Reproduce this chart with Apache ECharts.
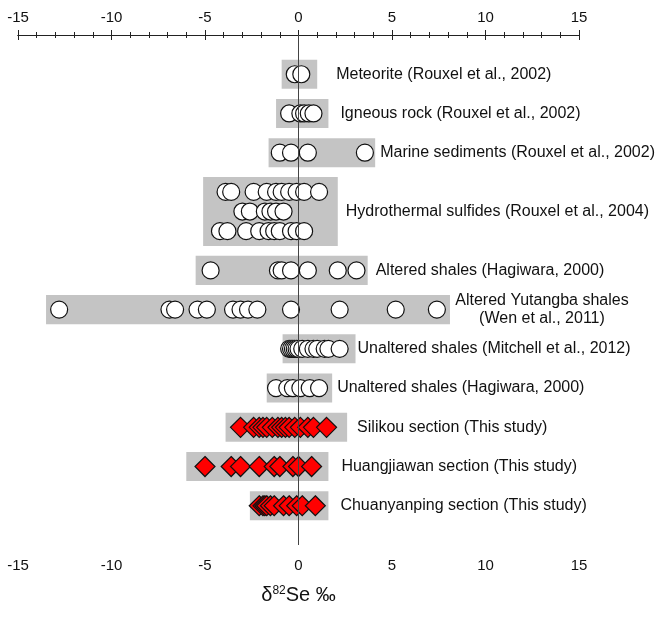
<!DOCTYPE html>
<html>
<head>
<meta charset="utf-8">
<script src="https://cdn.jsdelivr.net/npm/echarts@6/dist/echarts.min.js"></script>
<style>html,body{margin:0;padding:0;background:#fff}#c{width:662px;height:617px}</style>
</head>
<body>
<div id="c"></div>
<script>
// ---- data ----
const groupNames = [
  'Meteorite (Rouxel et al., 2002)',
  'Igneous rock (Rouxel et al., 2002)',
  'Marine sediments (Rouxel et al., 2002)',
  'Hydrothermal sulfides (Rouxel et al., 2004)',
  'Altered shales (Hagiwara, 2000)',
  'Altered Yutangba shales\n(Wen et al., 2011)',
  'Unaltered shales (Mitchell et al., 2012)',
  'Unaltered shales (Hagiwara, 2000)',
  'Silikou section (This study)',
  'Huangjiawan section (This study)',
  'Chuanyanping section (This study)'
];
const groupRows = [1, 2, 3, 4.5, 6, 7, 8, 9, 10, 11, 12];
const boxLo = [-0.9, -1.2, -1.6, -5.1, -5.5, -13.5, -0.85, -1.7, -3.9, -6.0, -2.6];
const boxHi = [1.0, 1.6, 4.1, 2.1, 3.7, 8.1, 3.05, 1.8, 2.6, 1.6, 1.6];

const meteorite = [-0.2, 0.15];
const igneous = [-0.5, 0.1, 0.3, 0.55, 0.8];
const marine = [-1.0, -0.4, 0.5, 3.55];
const hydroA = [-3.9, -3.6, -2.4, -1.7, -1.2, -0.9, -0.5, -0.1, 0.3, 1.1];
const hydroB = [-3.0, -2.6, -1.8, -1.5, -1.2, -0.8];
const hydroC = [-4.2, -3.8, -2.8, -2.1, -1.6, -1.3, -1.0, -0.4, -0.1, 0.3];
const alteredShales = [-4.7, -1.1, -0.9, -0.4, 0.5, 2.1, 3.1];
const yutangba = [-12.8, -6.9, -6.6, -5.4, -4.9, -3.5, -3.1, -2.7, -2.2, -0.4, 2.2, 5.2, 7.4];
const mitchell = [-0.5, -0.4, -0.3, -0.2, -0.1, 0.0, 0.2, 0.5, 0.8, 1.0, 1.4, 1.6, 2.2];
const hagiwaraUnaltered = [-1.2, -0.6, -0.3, 0.1, 0.6, 1.1];
const silikou = [-3.1, -2.4, -2.1, -1.9, -1.7, -1.4, -1.1, -0.9, -0.7, -0.5, -0.2, 0.1, 0.5, 0.8, 1.5];
const huangjiawan = [-5.0, -3.6, -3.1, -2.1, -1.3, -1.0, -0.3, 0.0, 0.7];
const chuanyanping = [-2.1, -1.9, -1.8, -1.7, -1.5, -1.3, -0.8, -0.5, -0.1, 0.2, 0.9];
const xTicks = [-15, -10, -5, 0, 5, 10, 15];

// ---- layout (not data) ----
const labelGapPx = [19, 12, 5, 8, 8, 5, 2, 5, 10, 13, 12];
const multiLineCenterPx = 87;
const halfH = 0.37;
const hydroHalfH = 0.88;

const circleSets = [
  [meteorite, 1], [igneous, 2], [marine, 3],
  [hydroA, 4], [hydroB, 4.5], [hydroC, 5],
  [alteredShales, 6], [yutangba, 7], [mitchell, 8], [hagiwaraUnaltered, 9]
];
const diamondSets = [[silikou, 10], [huangjiawan, 11], [chuanyanping, 12]];

const circleData = [];
circleSets.forEach(([vals, r]) => vals.forEach(v => circleData.push([v, r])));
const diamondData = [];
diamondSets.forEach(([vals, r]) => vals.forEach(v => diamondData.push([v, r])));

const boxData = groupNames.map((n, i) => [boxLo[i], boxHi[i], groupRows[i], i === 3 ? hydroHalfH : halfH]);
const labelData = groupNames.map((n, i) => [boxHi[i], groupRows[i], i]);

const font = "'Liberation Sans', Arial, sans-serif";
const chart = echarts.init(document.getElementById('c'));

const axisCommon = {
  type: 'value', min: xTicks[0], max: xTicks[xTicks.length - 1], interval: 5,
  axisLine: { show: true, lineStyle: { color: '#222', width: 1.2 } },
  axisTick: { show: true, inside: false, length: 5, lineStyle: { color: '#222', width: 1 } },
  minorTick: { show: true, splitNumber: 5, length: 3, lineStyle: { color: '#222', width: 1 } },
  splitLine: { show: false },
  axisLabel: { color: '#111', fontSize: 15, fontFamily: font, margin: 10 }
};

chart.setOption({
  animation: false,
  backgroundColor: '#fff',
  grid: { left: 18, right: 83, top: 35, bottom: 72 },
  xAxis: [
    Object.assign({}, axisCommon, {
      position: 'bottom',
      axisLabel: Object.assign({}, axisCommon.axisLabel, { margin: 13 }),
      name: '{d|δ}{s|82}{n|Se ‰}', nameLocation: 'middle', nameGap: 40,
      nameTextStyle: {
        rich: {
          d: { fontSize: 20, fontFamily: font, color: '#111' },
          s: { fontSize: 12, fontFamily: font, color: '#111', padding: [0, 0, 9, 0] },
          n: { fontSize: 20, fontFamily: font, color: '#111' }
        }
      }
    }),
    Object.assign({}, axisCommon, { position: 'top' })
  ],
  yAxis: { type: 'value', min: 0, max: 13, inverse: true, show: false },
  series: [
    {
      type: 'custom', z: 1,
      data: boxData,
      renderItem: (params, api) => {
        const p1 = api.coord([api.value(0), api.value(2) - api.value(3)]);
        const p2 = api.coord([api.value(1), api.value(2) + api.value(3)]);
        return { type: 'rect', shape: { x: p1[0], y: p1[1], width: p2[0] - p1[0], height: p2[1] - p1[1] },
                 style: { fill: '#c4c4c4' } };
      }
    },
    {
      type: 'scatter', z: 3, data: circleData, symbol: 'circle', symbolSize: 17,
      itemStyle: { color: '#fff', borderColor: '#111', borderWidth: 1.2, opacity: 1 }
    },
    {
      type: 'scatter', z: 3, data: diamondData, symbol: 'diamond', symbolSize: [20, 20],
      itemStyle: { color: '#ff0000', borderColor: '#111', borderWidth: 1.2, opacity: 1 }
    },
    {
      type: 'line', z: 5, data: [[0, 0], [0, 13]], symbol: 'none',
      lineStyle: { color: '#444', width: 1 }, silent: true
    },
    {
      type: 'custom', z: 4,
      data: labelData,
      renderItem: (params, api) => {
        const i = api.value(2);
        const p = api.coord([api.value(0), api.value(1)]);
        const multi = groupNames[i].indexOf('\n') >= 0;
        return {
          type: 'text',
          x: p[0] + labelGapPx[i] + (multi ? multiLineCenterPx : 0), y: p[1],
          style: { text: groupNames[i], fill: '#111', fontSize: 16, fontFamily: font,
                   align: multi ? 'center' : 'left', verticalAlign: 'middle', lineHeight: 18 }
        };
      }
    }
  ]
});
</script>
</body>
</html>
